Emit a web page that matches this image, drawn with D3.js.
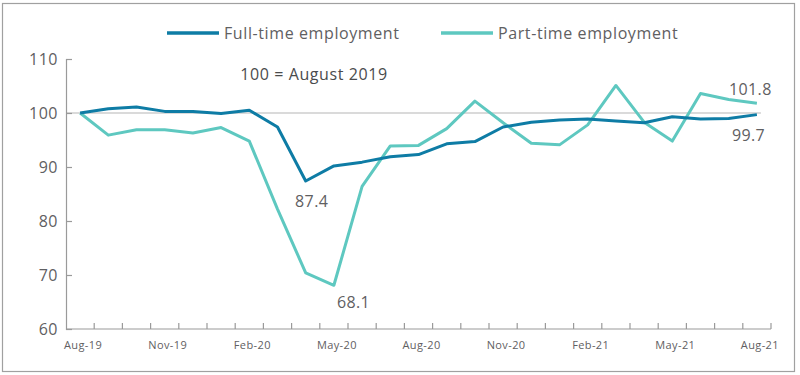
<script src="https://d3js.org/d3.v7.min.js"></script>

<svg id="vis"></svg>

<script>

  /***** DATA *****/

  var months = ['Aug-19', 'Sep-19', 'Oct-19', 'Nov-19', 'Dec-19', 'Jan-20', 'Feb-20', 'Mar-20', 'Apr-20',
    'May-20', 'Jun-20', 'Jul-20', 'Aug-20', 'Sep-20', 'Oct-20', 'Nov-20', 'Dec-20', 'Jan-21', 'Feb-21',
    'Mar-21', 'Apr-21', 'May-21', 'Jun-21', 'Jul-21', 'Aug-21']

  var fullTime = [100, 100.8, 101.1, 100.3, 100.3, 99.9, 100.5, 97.4, 87.4, 90.2, 90.9, 91.9, 92.3,
    94.3, 94.7, 97.4, 98.3, 98.7, 98.9, 98.5, 98.2, 99.3, 98.9, 99.0, 99.7]

  var partTime = [100, 95.9, 96.9, 96.9, 96.3, 97.3, 94.8, 82.2, 70.4, 68.1, 86.4, 93.9, 94.0,
    97.1, 102.2, 98.2, 94.4, 94.1, 97.8, 105.1, 98.3, 94.8, 103.6, 102.5, 101.8]

  var yTicks = [60, 70, 80, 90, 100, 110]
  var xTickLabels = ['Aug-19', 'Nov-19', 'Feb-20', 'May-20', 'Aug-20', 'Nov-20', 'Feb-21', 'May-21', 'Aug-21']

  var seriesNames = ['Full-time employment', 'Part-time employment']
  var seriesColors = ['#0e7ca5', '#5ec8c0']

  // value labels: [series index, month, value]
  var callouts = [
    { s: 0, month: 'Apr-20', text: '87.4', dx: 6, dy: 26, anchor: 'middle' },
    { s: 1, month: 'May-20', text: '68.1', dx: 3, dy: 23, anchor: 'start' },
    { s: 1, month: 'Aug-21', text: '101.8', dx: -28, dy: -8, anchor: 'start' },
    { s: 0, month: 'Aug-21', text: '99.7', dx: -25, dy: 26, anchor: 'start' }
  ]

  /***** SETUP *****/

  var width = 800
  var height = 375
  var textColor = '#5f6062'
  var axisColor = '#9a9a9a'
  var font = 'Open Sans'

  var svg = d3.select('#vis')
    .attr('width', width)
    .attr('height', height)
    .style('background-color', 'white')
    .style('font-family', font)

  // outer frame
  svg.append('rect')
    .attr('x', 2.5)
    .attr('y', 3.5)
    .attr('width', 792)
    .attr('height', 368)
    .attr('fill', 'none')
    .attr('stroke', '#a0a0a0')
    .attr('stroke-width', 1.2)

  var x = d3.scaleBand()
    .domain(months)
    .range([66, 771])

  var y = d3.scaleLinear()
    .domain([60, 110])
    .range([329, 59])

  function cx(m) { return x(m) + x.bandwidth() / 2 }

  /***** AXES *****/

  // 100 reference line
  svg.append('line')
    .attr('x1', 66)
    .attr('x2', cx(months[months.length - 1]) + 4)
    .attr('y1', y(100))
    .attr('y2', y(100))
    .attr('stroke', '#b5b5b5')
    .attr('stroke-width', 1.2)

  var yAxis = svg.append('g')
    .attr('transform', 'translate(66,0)')
    .call(d3.axisLeft(y).tickValues(yTicks).tickSize(-6).tickPadding(8))
  yAxis.select('.domain').attr('stroke', axisColor).attr('stroke-width', 1.2)
  yAxis.selectAll('.tick line').attr('stroke', axisColor).attr('stroke-width', 1.2)
  yAxis.selectAll('.tick text')
    .attr('fill', textColor)
    .style('font-family', font)
    .style('font-size', '16px')
    .style('letter-spacing', '0.5px')

  // x axis baseline
  svg.append('line')
    .attr('x1', 66)
    .attr('x2', 771)
    .attr('y1', y(60))
    .attr('y2', y(60))
    .attr('stroke', axisColor)
    .attr('stroke-width', 1.2)

  // tick marks at month boundaries
  var boundaries = months.map(function (m) { return x(m) }).concat([x.range()[1]])
  svg.selectAll('.xtick')
    .data(boundaries.slice(1))
    .enter()
    .append('line')
    .attr('class', 'xtick')
    .attr('x1', function (d) { return d })
    .attr('x2', function (d) { return d })
    .attr('y1', y(60))
    .attr('y2', y(60) - 6)
    .attr('stroke', axisColor)
    .attr('stroke-width', 1.2)

  svg.selectAll('.xlabel')
    .data(xTickLabels)
    .enter()
    .append('text')
    .attr('class', 'xlabel')
    .attr('x', function (d) { return cx(d) + 3 })
    .attr('y', 349)
    .attr('text-anchor', 'middle')
    .attr('fill', textColor)
    .style('font-size', '11px')
    .style('letter-spacing', '0.4px')
    .text(function (d) { return d })

  /***** LINES *****/

  var line = d3.line()
    .x(function (d, i) { return cx(months[i]) })
    .y(function (d) { return y(d) })

  svg.selectAll('.series')
    .data([fullTime, partTime])
    .enter()
    .append('path')
    .attr('class', 'series')
    .attr('d', function (d) { return line(d) })
    .attr('fill', 'none')
    .attr('stroke', function (d, i) { return seriesColors[i] })
    .attr('stroke-width', 3)
    .attr('stroke-linejoin', 'round')

  // full-time line drawn on top
  svg.selectAll('.series').filter(function (d, i) { return i === 0 }).raise()

  /***** CALLOUTS *****/

  var seriesData = [fullTime, partTime]
  svg.selectAll('.callout')
    .data(callouts)
    .enter()
    .append('text')
    .attr('class', 'callout')
    .attr('x', function (d) { return cx(d.month) + d.dx })
    .attr('y', function (d) { return y(seriesData[d.s][months.indexOf(d.month)]) + d.dy })
    .attr('text-anchor', function (d) { return d.anchor })
    .attr('fill', textColor)
    .style('font-size', '16px')
    .style('letter-spacing', '0.4px')
    .text(function (d) { return d.text })

  svg.append('text')
    .attr('x', 314)
    .attr('y', 80)
    .attr('text-anchor', 'middle')
    .attr('fill', '#4a4b4d')
    .style('font-size', '16px')
    .style('font-weight', 500)
    .style('letter-spacing', '0.6px')
    .text('100 = August 2019')

  /***** LEGEND *****/

  var legendX = [167, 441]
  var legend = svg.selectAll('.legend')
    .data(seriesNames)
    .enter()
    .append('g')
    .attr('class', 'legend')
    .attr('transform', function (d, i) { return 'translate(' + legendX[i] + ',33)' })

  legend.append('line')
    .attr('x1', 0)
    .attr('x2', 52)
    .attr('stroke', function (d, i) { return seriesColors[i] })
    .attr('stroke-width', 3.5)

  legend.append('text')
    .attr('x', 57)
    .attr('y', 6)
    .attr('fill', textColor)
    .style('font-size', '16px')
    .style('letter-spacing', '0.6px')
    .text(function (d) { return d })

</script>

<body style="margin: 0;"></body>
